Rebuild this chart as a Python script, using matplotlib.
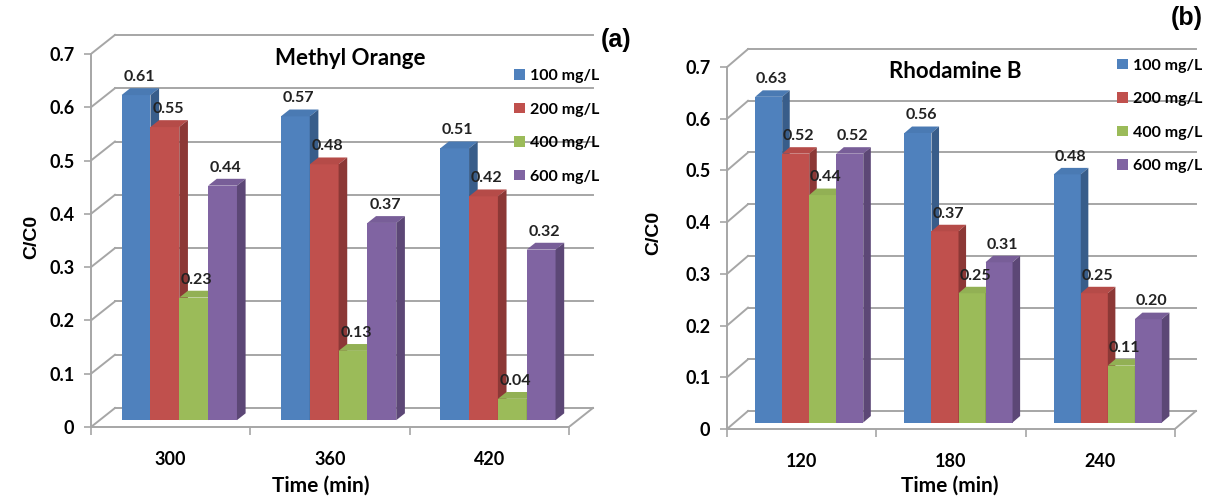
import matplotlib.pyplot as plt
from matplotlib.patches import Polygon, Patch
from matplotlib.transforms import blended_transform_factory

# Methyl Orange panel
mo_times = ['300', '360', '420']
mo_100 = [0.61, 0.57, 0.51]
mo_200 = [0.55, 0.48, 0.42]
mo_400 = [0.23, 0.13, 0.04]
mo_600 = [0.44, 0.37, 0.32]

# Rhodamine B panel
rb_times = ['120', '180', '240']
rb_100 = [0.63, 0.56, 0.48]
rb_200 = [0.52, 0.37, 0.25]
rb_400 = [0.44, 0.25, 0.11]
rb_600 = [0.52, 0.31, 0.20]

conc_labels = ['100 mg/L', '200 mg/L', '400 mg/L', '600 mg/L']
y_ticks = [0, 0.1, 0.2, 0.3, 0.4, 0.5, 0.6, 0.7]

front = ['#4F81BD', '#C0504D', '#9BBB59', '#8064A2']
side = ['#385D8A', '#8C3836', '#71893F', '#5C4776']
top = ['#4A7AB3', '#B54B48', '#92B054', '#785E98']
grid_c = '#A6A6A6'

W, H = 1211, 497
plt.rcParams['font.family'] = ['Lato', 'DejaVu Sans']
fig = plt.figure(figsize=(W / 100, H / 100), dpi=100)


def panel(x0, y0, cat_px, unit_px, dx_px, dy_px, cats, series, title, title_xy,
          leg_xy, xlab_x, ylab_xy):
    xmax, ymax = 3.22, 0.76
    ax = fig.add_axes([x0 / W, (H - y0) / H, xmax * cat_px / W, ymax * unit_px / H])
    ax.set_xlim(0, xmax)
    ax.set_ylim(0, ymax)
    dx = dx_px / cat_px
    dy = dy_px / unit_px
    n = len(cats)

    # walls and floor
    for v in y_ticks:
        ax.plot([dx, n + dx], [v + dy, v + dy], color=grid_c, lw=1.4, zorder=1)
        ax.plot([0, dx], [v, v + dy], color=grid_c, lw=1.4, zorder=1)
    ax.plot([n, n + dx], [0, dy], color=grid_c, lw=1.4, zorder=1)

    # 3-D looking columns
    f, d, w = 0.36, 0.36, 0.181
    for i in range(n):
        for k, vals in enumerate(series):
            v = vals[i]
            xl = i + 0.5 + (k - 2) * w + f * dx
            xr = xl + w
            b = f * dy
            z = 3 + i * 10 + k
            ax.bar(xl, v, width=w, bottom=b, align='edge', color=front[k], lw=0, zorder=z)
            ax.add_patch(Polygon([(xl, b + v), (xr, b + v), (xr + d * dx, b + v + d * dy),
                                  (xl + d * dx, b + v + d * dy)], closed=True,
                                 facecolor=top[k], lw=0, zorder=z))
            ax.add_patch(Polygon([(xr, b), (xr, b + v), (xr + d * dx, b + v + d * dy),
                                  (xr + d * dx, b + d * dy)], closed=True,
                                 facecolor=side[k], lw=0, zorder=z))
            ax.annotate(f'{v:.2f}', (xl + w / 2 + 0.02, b + v + d * dy), xytext=(0, 3),
                        textcoords='offset points', ha='center', va='bottom',
                        fontsize=11.5, fontweight='bold', color='#222222', zorder=100)

    for s in ['top', 'right']:
        ax.spines[s].set_visible(False)
    for s in ['left', 'bottom']:
        ax.spines[s].set_color(grid_c)
        ax.spines[s].set_linewidth(1.4)
    ax.spines['left'].set_bounds(0, 0.7)
    ax.spines['bottom'].set_bounds(0, n)

    ax.set_yticks(y_ticks, ['0' if v == 0 else f'{v:g}' for v in y_ticks])
    ax.tick_params(axis='y', length=5, width=1.2, color=grid_c, pad=7,
                   labelsize=13)
    ax.set_xticks([i + 0.5 for i in range(n)], cats)
    ax.set_xticks(range(n + 1), minor=True)
    ax.tick_params(axis='x', which='major', length=0, pad=17, labelsize=13)
    ax.tick_params(axis='x', which='minor', length=6, width=1.2, color=grid_c)
    for lab in ax.get_xticklabels() + ax.get_yticklabels():
        lab.set_fontweight('bold')

    ax.set_xlabel('Time (min)', fontsize=15, fontweight='bold', va='center')
    ax.xaxis.set_label_coords(xlab_x, -(486 - y0) / (ymax * unit_px),
                              transform=blended_transform_factory(ax.transData, ax.transAxes))
    ax.set_ylabel('C/C0', fontsize=14, fontweight='bold', family='Liberation Sans')
    ax.yaxis.set_label_coords(*ylab_xy)

    ax.text(title_xy[0], title_xy[1], title, ha='center', va='center',
            fontsize=16, fontweight='bold')

    handles = [Patch(facecolor=c, label=l) for c, l in zip(front, conc_labels)]
    ax.legend(handles=handles, loc='upper left', bbox_to_anchor=leg_xy, frameon=False,
              borderpad=0, handlelength=0.65, handleheight=0.65, handletextpad=0.35,
              labelspacing=1.22, prop={'weight': 'bold', 'size': 11.5})
    return ax


panel(91, 427, 159.3, 533, 24, 19, mo_times, [mo_100, mo_200, mo_400, mo_600],
      'Methyl Orange', (1.63, 0.692), (0.81, 0.903), 1.44, (-0.098, 0.47))
panel(727, 429, 149.3, 517, 21, 18, rb_times, [rb_100, rb_200, rb_400, rb_600],
      'Rhodamine B', (1.53, 0.692), (0.795, 0.963), 1.49, (-0.135, 0.5))

fig.text(616 / W, 1 - 40 / H, '(a)', ha='center', va='center', fontsize=18,
         fontweight='bold', family='Liberation Sans')
fig.text(1187 / W, 1 - 18 / H, '(b)', ha='center', va='center', fontsize=18,
         fontweight='bold', family='Liberation Sans')

fig.savefig('out.png', dpi=100)
